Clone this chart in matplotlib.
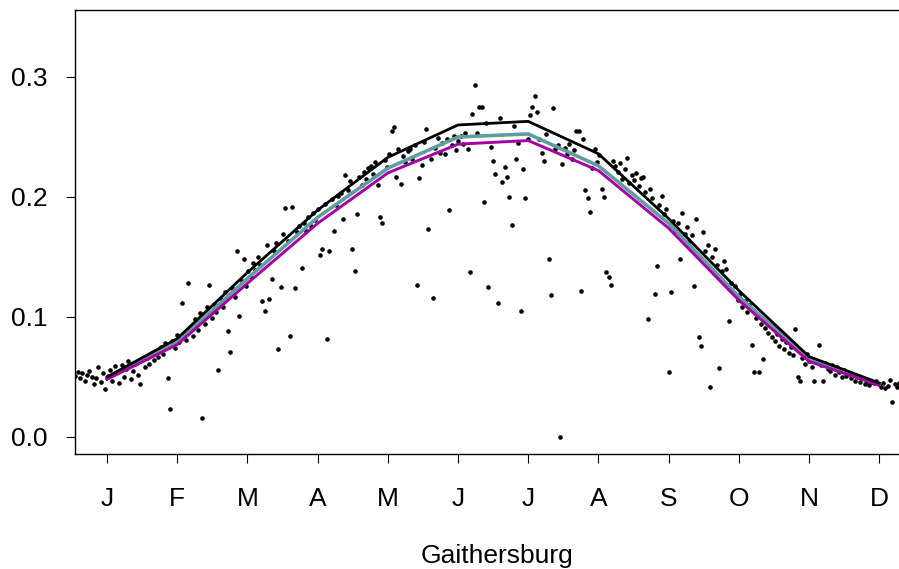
import numpy as np
import matplotlib
matplotlib.use("Agg")
import matplotlib.pyplot as plt

plt.rcParams['font.family'] = ['Liberation Sans', 'DejaVu Sans']

months = ["J", "F", "M", "A", "M", "J", "J", "A", "S", "O", "N", "D"]

# monthly curves
black_line = [0.050, 0.082, 0.137, 0.189, 0.233, 0.260, 0.263, 0.236, 0.182, 0.122, 0.067, 0.045]
teal_line = [0.049, 0.079, 0.132, 0.183, 0.224, 0.250, 0.2525, 0.226, 0.178, 0.117, 0.065, 0.044]
magenta_line = [0.048, 0.077, 0.128, 0.178, 0.220, 0.244, 0.247, 0.222, 0.174, 0.114, 0.063, 0.043]

# daily values, one list per month
jan = [0.042, 0.051, 0.054, 0.049, 0.053, 0.047, 0.052, 0.055, 0.050, 0.044, 0.049, 0.058,
       0.046, 0.053, 0.040, 0.051, 0.056, 0.047, 0.059, 0.054, 0.045, 0.060, 0.050, 0.057,
       0.063, 0.048, 0.055, 0.061, 0.052, 0.044, 0.064]
feb = [0.058, 0.066, 0.061, 0.070, 0.064, 0.072, 0.067, 0.075, 0.069, 0.078, 0.049, 0.023,
       0.080, 0.074, 0.085, 0.079, 0.112, 0.087, 0.081, 0.128, 0.092, 0.084, 0.098, 0.089,
       0.103, 0.016, 0.094, 0.108]
mar = [0.127, 0.099, 0.111, 0.104, 0.056, 0.115, 0.108, 0.121, 0.088, 0.071, 0.124, 0.117,
       0.155, 0.101, 0.130, 0.148, 0.126, 0.138, 0.133, 0.145, 0.139, 0.150, 0.143, 0.113,
       0.105, 0.160, 0.115, 0.132, 0.155, 0.162, 0.073]
apr = [0.125, 0.169, 0.191, 0.163, 0.084, 0.192, 0.124, 0.171, 0.176, 0.141, 0.178, 0.172,
       0.183, 0.176, 0.187, 0.181, 0.190, 0.152, 0.157, 0.194, 0.082, 0.155, 0.198, 0.172,
       0.193, 0.201, 0.203, 0.182, 0.218, 0.206]
may = [0.213, 0.157, 0.138, 0.186, 0.217, 0.210, 0.221, 0.215, 0.224, 0.226, 0.219, 0.229,
       0.210, 0.183, 0.178, 0.231, 0.225, 0.236, 0.255, 0.258, 0.217, 0.240, 0.211, 0.234,
       0.229, 0.238, 0.240, 0.232, 0.243, 0.127, 0.216]
jun = [0.227, 0.246, 0.257, 0.173, 0.232, 0.116, 0.241, 0.249, 0.237, 0.245, 0.236, 0.248,
       0.189, 0.243, 0.251, 0.239, 0.247, 0.251, 0.244, 0.253, 0.240, 0.1375, 0.269, 0.293,
       0.253, 0.275, 0.275, 0.196, 0.262, 0.125]
jul = [0.242, 0.230, 0.219, 0.112, 0.266, 0.2125, 0.225, 0.217, 0.200, 0.177, 0.259, 0.232,
       0.245, 0.105, 0.223, 0.199, 0.248, 0.268, 0.275, 0.284, 0.271, 0.248, 0.237, 0.230,
       0.2525, 0.148, 0.118, 0.274, 0.240, 0.243, 0.000]
aug = [0.2275, 0.241, 0.236, 0.244, 0.232, 0.239, 0.255, 0.255, 0.122, 0.248, 0.206, 0.199,
       0.1875, 0.224, 0.240, 0.229, 0.235, 0.207, 0.200, 0.1375, 0.133, 0.127, 0.230, 0.226,
       0.221, 0.228, 0.215, 0.223, 0.2325, 0.212, 0.218]
sep = [0.214, 0.220, 0.209, 0.216, 0.217, 0.204, 0.098, 0.207, 0.199, 0.119, 0.1425, 0.193,
       0.201, 0.186, 0.190, 0.054, 0.121, 0.180, 0.172, 0.178, 0.148, 0.187, 0.169, 0.175,
       0.163, 0.168, 0.126, 0.182, 0.083, 0.076]
oct = [0.171, 0.155, 0.160, 0.042, 0.150, 0.157, 0.143, 0.0575, 0.138, 0.147, 0.140, 0.097,
       0.128, 0.121, 0.126, 0.114, 0.119, 0.108, 0.113, 0.104, 0.110, 0.077, 0.054, 0.099,
       0.054, 0.094, 0.065, 0.091, 0.087, 0.093, 0.083]
nov = [0.080, 0.086, 0.076, 0.082, 0.073, 0.079, 0.070, 0.075, 0.068, 0.090, 0.050, 0.047,
       0.066, 0.061, 0.069, 0.063, 0.058, 0.047, 0.064, 0.0765, 0.060, 0.047, 0.062, 0.057,
       0.055, 0.060, 0.052, 0.058, 0.054, 0.050]
dec = [0.056, 0.051, 0.053, 0.049, 0.052, 0.047, 0.050, 0.046, 0.049, 0.044, 0.047, 0.043,
       0.046, 0.045, 0.047, 0.044, 0.042, 0.045, 0.041, 0.0425, 0.0475, 0.029, 0.044, 0.042,
       0.045, 0.040, 0.043, 0.039, 0.041, 0.038, 0.040]

daily = np.concatenate([jan, feb, mar, apr, may, jun, jul, aug, sep, oct, nov, dec])
doy = np.arange(1, len(daily) + 1)
# day of year -> month units, so that mid-month sits on the month tick
day_pos = (doy - 0.5) / (365 / 12) + 0.5
month_pos = np.arange(1, 13)

fig = plt.figure(figsize=(8.99, 5.69), dpi=100)
ax = fig.add_axes([75 / 899, 1 - 454 / 569, 845 / 899, 444 / 569])

ax.plot(day_pos, daily, 'o', color='black', markersize=3.3, markeredgewidth=0)
ax.plot(month_pos, teal_line, color='#5F9EA0', lw=2.6)
ax.plot(month_pos, magenta_line, color='#A500A5', lw=2.1)
ax.plot(month_pos, black_line, color='black', lw=2.0)

ax.set_xlim(0.544, 12.581)
ax.set_ylim(-0.0142, 0.3558)

ax.set_xticks(month_pos)
ax.set_xticklabels(months)
ax.set_yticks([0.0, 0.1, 0.2, 0.3])
ax.set_yticklabels(["0.0", "0.1", "0.2", "0.3"])
ax.tick_params(axis='both', direction='out', length=6.5, width=0.8, labelsize=19)
ax.tick_params(axis='x', pad=17)
ax.tick_params(axis='y', pad=13)
for s in ax.spines.values():
    s.set_linewidth(1.0)

ax.set_xlabel("Gaithersburg", fontsize=19, labelpad=24)

fig.savefig("out.png", dpi=100)
